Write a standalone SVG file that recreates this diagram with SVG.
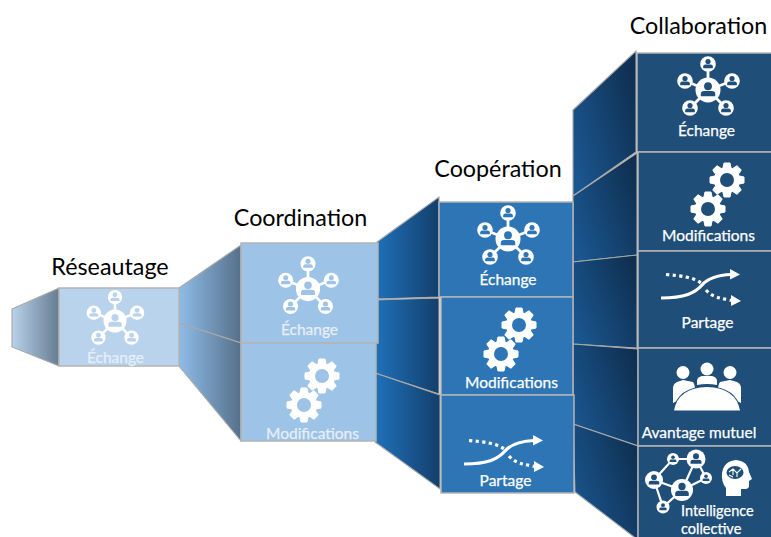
<svg xmlns="http://www.w3.org/2000/svg" xmlns:xlink="http://www.w3.org/1999/xlink" width="771" height="537" viewBox="0 0 771 537">
<style>
text{font-family:Lato,"Liberation Sans",sans-serif}
.title{font-size:23.300px;fill:#000;text-anchor:middle}
.lbl{font-size:15.500px;fill:#fff;text-anchor:middle;stroke:#fff;stroke-width:.25}
.faint{fill:#e6eff8;stroke:#e6eff8}
.small{font-size:14.500px;text-anchor:start}
.box{stroke:#b4b4b4;stroke-width:1.5}
.fun{stroke:#a8a8a8;stroke-width:1.100}
.l0{fill:#b9d3ec}.l1{fill:#9dc3e6}.l2{fill:#2e75b6}.l3{fill:#1f4e79}
.c0{color:#b9d3ec}.c1{color:#9dc3e6}.c2{color:#2e75b6}.c3{color:#1f4e79}
</style>
<defs>
<linearGradient id="g0" x1="0" x2="1" y1="0" y2="0"><stop offset="0" stop-color="#b8d2ea"/><stop offset="1" stop-color="#667c91"/></linearGradient>
<linearGradient id="g1" x1="0" x2="1" y1="0" y2="0"><stop offset="0" stop-color="#8fbce8"/><stop offset="1" stop-color="#56708a"/></linearGradient>
<linearGradient id="g2" x1="0" x2="1" y1="0" y2="0"><stop offset="0" stop-color="#1f71ba"/><stop offset="1" stop-color="#143f6b"/></linearGradient>
<linearGradient id="g3" x1="0" x2="1" y1="0.75" y2="0.2"><stop offset="0" stop-color="#1a568f"/><stop offset="1" stop-color="#0f2f50"/></linearGradient>
<g id="person"><circle cx="0" cy="-2.500" r="2.600" fill="currentColor"/><path d="M-4.800,4.200V2.400Q-4.800,0.600-2.600,0.600H2.600Q4.800,0.600,4.800,2.400V4.200Z" fill="currentColor"/></g>
<g id="net">
<path d="M0,0V-26M0,0L24,-9M0,0L18,18M0,0L-18,18M0,0L-23,-9" stroke="#fff" stroke-width="2.800" fill="none"/>
<circle r="12.500" fill="#fff"/><use xlink:href="#person" href="#person" transform="scale(1.5)"/>
<g transform="translate(0,-26)"><circle r="7.800" fill="#fff"/><use xlink:href="#person" href="#person"/></g>
<g transform="translate(24,-9)"><circle r="7.800" fill="#fff"/><use xlink:href="#person" href="#person"/></g>
<g transform="translate(18,18)"><circle r="7.800" fill="#fff"/><use xlink:href="#person" href="#person"/></g>
<g transform="translate(-18,18)"><circle r="7.800" fill="#fff"/><use xlink:href="#person" href="#person"/></g>
<g transform="translate(-23,-9)"><circle r="7.800" fill="#fff"/><use xlink:href="#person" href="#person"/></g>
</g>
<path id="tooth" d="M-4.200,-11.500L-3,-17H3L4.200,-11.500Z" fill="#fff" stroke="#fff" stroke-width="1" stroke-linejoin="round"/>
<g id="gear">
<circle r="10" fill="none" stroke="#fff" stroke-width="6"/>
<use xlink:href="#tooth" href="#tooth"/><use xlink:href="#tooth" href="#tooth" transform="rotate(45)"/><use xlink:href="#tooth" href="#tooth" transform="rotate(90)"/><use xlink:href="#tooth" href="#tooth" transform="rotate(135)"/><use xlink:href="#tooth" href="#tooth" transform="rotate(180)"/><use xlink:href="#tooth" href="#tooth" transform="rotate(225)"/><use xlink:href="#tooth" href="#tooth" transform="rotate(270)"/><use xlink:href="#tooth" href="#tooth" transform="rotate(315)"/>
</g>
<g id="share">
<path d="M0,0C24,0 34,-5 41,-13C48,-21 58,-23 70,-23.500" fill="none" stroke="#fff" stroke-width="3.200"/>
<path d="M69,-29L79,-23.500L69,-18.500Z" fill="#fff"/>
<path d="M5,-23.500C20,-22 32,-21 40,-15M45,-8C52,0 60,0 70,2.500" fill="none" stroke="#fff" stroke-width="3.200" stroke-dasharray="3.200 3.400"/>
<path d="M70,-3L80,3L70,8Z" fill="#fff"/>
</g>
</defs>
<rect width="771" height="537" fill="#fff"/>
<g id="connectors">
<path class="fun" fill="url(#g0)" d="M12,309L59,288V366L12,347Z"/>
<path class="fun" fill="url(#g1)" d="M179,288L241,245V343L179,323Z"/>
<path class="fun" fill="url(#g1)" d="M179,323L241,343V441L179,366Z"/>
<path class="fun" fill="url(#g2)" d="M377,242L439,197V297L375,299Z"/>
<path class="fun" fill="url(#g2)" d="M375,300L439,298V394L375,373Z"/>
<path class="fun" fill="url(#g2)" d="M375,373L440,395V489L375,442Z"/>
<path class="fun" fill="url(#g3)" d="M573,110L636,51V152L573,196Z"/>
<path class="fun" fill="url(#g3)" d="M573,196L637,153V255L573,262Z"/>
<path class="fun" fill="url(#g3)" d="M573,262L637,255V348L573,344Z"/>
<path class="fun" fill="url(#g3)" d="M573,344L638,349V446L573,424Z"/>
<path class="fun" fill="url(#g3)" d="M573,424L638,446V540L575,492Z"/>
</g>
<g id="reseautage">
<text class="title" x="110" y="275">Réseautage</text>
<rect class="box l0" x="59" y="288" width="120" height="78"/>
<use class="c0" xlink:href="#net" href="#net" transform="translate(115,321) scale(.92)"/>
<text class="lbl faint" x="115.500" y="363">Échange</text>
</g>
<g id="coordination">
<text class="title" x="300.500" y="226">Coordination</text>
<g id="coordination-echange"><rect class="box l1" x="241" y="243" width="137" height="100"/>
<use class="c1" xlink:href="#net" href="#net" transform="translate(308,289) scale(.97)"/>
<text class="lbl faint" x="309.500" y="335">Échange</text></g>
<g id="coordination-modifications"><rect class="box l1" x="241" y="343" width="135" height="98"/>
<use xlink:href="#gear" href="#gear" transform="translate(322,376)"/><use xlink:href="#gear" href="#gear" transform="translate(304,405)"/>
<text class="lbl faint" x="312.500" y="439">Modifications</text></g>
</g>
<g id="cooperation">
<text class="title" x="498" y="177">Coopération</text>
<g id="cooperation-echange"><rect class="box l2" x="439" y="202" width="134" height="95"/>
<use class="c2" xlink:href="#net" href="#net" transform="translate(508,239)"/>
<text class="lbl" x="508" y="285">Échange</text></g>
<g id="cooperation-modifications"><rect class="box l2" x="441" y="297" width="132" height="98"/>
<use xlink:href="#gear" href="#gear" transform="translate(519,325)"/><use xlink:href="#gear" href="#gear" transform="translate(501,354)"/>
<text class="lbl" x="511.500" y="388">Modifications</text></g>
<g id="cooperation-partage"><rect class="box l2" x="441" y="395" width="133" height="98"/>
<use xlink:href="#share" href="#share" transform="translate(464,464)"/>
<text class="lbl" x="505.500" y="486">Partage</text></g>
</g>
<g id="collaboration">
<text class="title" x="698.500" y="34">Collaboration</text>
<g id="collaboration-echange"><rect class="box l3" x="637" y="53" width="136" height="99"/>
<use class="c3" xlink:href="#net" href="#net" transform="translate(708,90)"/>
<text class="lbl" x="706.500" y="136">Échange</text></g>
<g id="collaboration-modifications"><rect class="box l3" x="638" y="152" width="135" height="99"/>
<use xlink:href="#gear" href="#gear" transform="translate(727,180)"/><use xlink:href="#gear" href="#gear" transform="translate(708,209)"/>
<text class="lbl" x="708.500" y="241">Modifications</text></g>
<g id="collaboration-partage"><rect class="box l3" x="638" y="251" width="135" height="97"/>
<use xlink:href="#share" href="#share" transform="translate(661,298)"/>
<text class="lbl" x="707.500" y="328">Partage</text></g>
<g id="collaboration-avantage"><rect class="box l3" x="638" y="348" width="135" height="98"/>
<g fill="#fff"><circle cx="683" cy="372.500" r="6.500"/><circle cx="707" cy="369" r="6.500"/><circle cx="730" cy="372.500" r="6.500"/>
<path d="M673,403V388Q673,384 677,382L683,380L693,382Q695,384 695,392Z"/>
<path d="M697,385V381Q697,377 702,376H712Q717,377 717,381V385Q707,383 697,385Z"/>
<path d="M741,403V388Q741,384 737,382L730,380L720,382Q718,384 718,392Z"/>
<path d="M674,410.500Q678,388 707,387Q736,388 740,410.500Z" stroke="#1f4e79" stroke-width="2" paint-order="stroke"/></g>
<text class="lbl" x="699" y="438">Avantage mutuel</text></g>
<g id="collaboration-intelligence" class="c3"><rect class="box l3" x="638" y="446" width="135" height="95"/>
<path d="M654,480L673,459L696,459L706,478L682,490L654,480L663,507L682,490L696,459" fill="none" stroke="#fff" stroke-width="2.200"/>
<g transform="translate(654,480)"><circle r="9" fill="#fff"/><use xlink:href="#person" href="#person" transform="scale(1.1)"/></g>
<g transform="translate(673,459)"><circle r="6" fill="#fff"/><use xlink:href="#person" href="#person" transform="scale(.7)"/></g>
<g transform="translate(696,459)"><circle r="9.500" fill="#fff"/><use xlink:href="#person" href="#person" transform="scale(1.15)"/></g>
<g transform="translate(706,478)"><circle r="6" fill="#fff"/><use xlink:href="#person" href="#person" transform="scale(.7)"/></g>
<g transform="translate(682,490)"><circle r="11" fill="#fff"/><use xlink:href="#person" href="#person" transform="scale(1.4)"/></g>
<g transform="translate(663,507)"><circle r="6.500" fill="#fff"/><use xlink:href="#person" href="#person" transform="scale(.75)"/></g>
<path fill="#fff" d="M726,496V488Q721,482 722,473Q724,461 736,460Q748,461 749,472L752,479L749,481V486Q749,489 745,489H741V496Z"/>
<ellipse cx="735" cy="472.500" rx="8.500" ry="6.500" fill="#1f4e79"/>
<path d="M729,472L733,469L737,473L741,469M733,469V475M737,473L737,477M729,475L733,477" fill="none" stroke="#fff" stroke-width="1.100"/>
<text class="lbl small" x="681" y="516">Intelligence</text>
<text class="lbl small" x="681" y="533.500">collective</text></g>
</g>
</svg>
